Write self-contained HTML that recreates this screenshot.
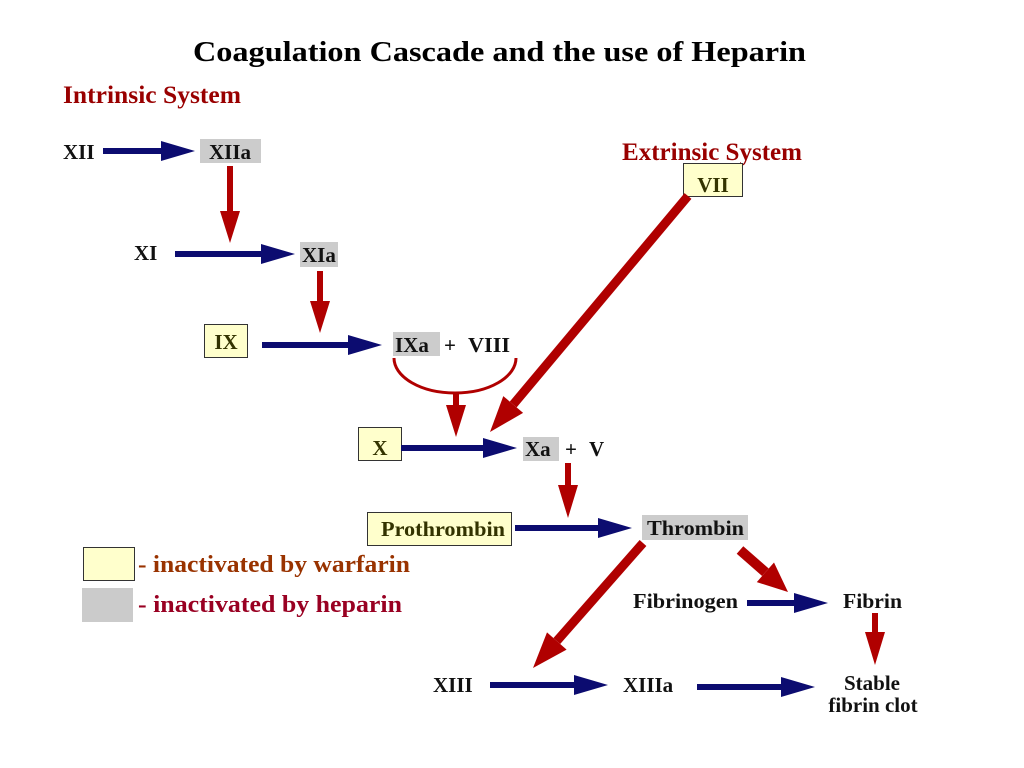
<!DOCTYPE html>
<html>
<head>
<meta charset="utf-8">
<style>
  html, body { margin:0; padding:0; background:#ffffff; }
  body { width:1024px; height:768px; overflow:hidden; }
  svg { display:block; }
  text { font-family: "Liberation Serif", "Times New Roman", serif; font-weight: bold; }
</style>
</head>
<body>
<svg width="1024" height="768" viewBox="0 0 1024 768" xmlns="http://www.w3.org/2000/svg">
  <rect x="0" y="0" width="1024" height="768" fill="#ffffff"/>

  <!-- Title -->
  <text x="193" y="61" font-size="29" fill="#000000" textLength="613" lengthAdjust="spacingAndGlyphs">Coagulation Cascade and the use of Heparin</text>
  <text x="63" y="103" font-size="25" fill="#990000" textLength="178" lengthAdjust="spacingAndGlyphs">Intrinsic System</text>
  <text x="622" y="160" font-size="25" fill="#990000" textLength="180" lengthAdjust="spacingAndGlyphs">Extrinsic System</text>

  <!-- Gray boxes (heparin) -->
  <rect x="200" y="139" width="61" height="24" fill="#cccccc"/>
  <rect x="300" y="242" width="38" height="25" fill="#cccccc"/>
  <rect x="393" y="332" width="47" height="24" fill="#cccccc"/>
  <rect x="523" y="437" width="36" height="24" fill="#cccccc"/>
  <rect x="642" y="515" width="106" height="25" fill="#cccccc"/>

  <!-- Yellow boxes (warfarin) -->
  <rect x="683.5" y="163.5" width="59" height="33" fill="#ffffcc" stroke="#333333" stroke-width="1"/>
  <rect x="204.5" y="324.5" width="43" height="33" fill="#ffffcc" stroke="#333333" stroke-width="1"/>
  <rect x="358.5" y="427.5" width="43" height="33" fill="#ffffcc" stroke="#333333" stroke-width="1"/>
  <rect x="367.5" y="512.5" width="144" height="33" fill="#ffffcc" stroke="#333333" stroke-width="1"/>

  <!-- Red diagonal arrows -->
  <line x1="688" y1="196" x2="513.2" y2="404.5" stroke="#b00000" stroke-width="9"/>
  <polygon points="523.1,412.9 490,432 503.3,396.1" fill="#b00000"/>

  <line x1="643" y1="543" x2="556.8" y2="641" stroke="#b00000" stroke-width="9"/>
  <polygon points="566.6,649.6 533,668 547.0,632.4" fill="#b00000"/>

  <line x1="740" y1="550" x2="765.4" y2="572.3" stroke="#b00000" stroke-width="10"/>
  <polygon points="756.8,582.1 788,592 774.0,562.5" fill="#b00000"/>

  <!-- Red curve under IXa + VIII -->
  <path d="M394,358 A61,35 0 0 0 516,358" fill="none" stroke="#b00000" stroke-width="3"/>

  <!-- Red vertical arrows -->
  <polygon points="227,166 233,166 233,211 240,211 230,243 220,211 227,211" fill="#b00000"/>
  <polygon points="317,271 323,271 323,301 330,301 320,333 310,301 317,301" fill="#b00000"/>
  <polygon points="453,392 459,392 459,405 466,405 456,437 446,405 453,405" fill="#b00000"/>
  <polygon points="565,463 571,463 571,485 578,485 568,518 558,485 565,485" fill="#b00000"/>
  <polygon points="872,613 878,613 878,632 885,632 875,665 865,632 872,632" fill="#b00000"/>

  <!-- Blue arrows -->
  <g fill="#0c0c70">
    <polygon points="103,148 161,148 161,141 195,151 161,161 161,154 103,154"/>
    <polygon points="175,251 261,251 261,244 295,254 261,264 261,257 175,257"/>
    <polygon points="262,342 348,342 348,335 382,345 348,355 348,348 262,348"/>
    <polygon points="401,445 483,445 483,438 517,448 483,458 483,451 401,451"/>
    <polygon points="515,525 598,525 598,518 632,528 598,538 598,531 515,531"/>
    <polygon points="747,600 794,600 794,593 828,603 794,613 794,606 747,606"/>
    <polygon points="490,682 574,682 574,675 608,685 574,695 574,688 490,688"/>
    <polygon points="697,684 781,684 781,677 815,687 781,697 781,690 697,690"/>
  </g>

  <!-- Labels -->
  <g font-size="21" fill="#111111">
    <text x="63" y="159">XII</text>
    <text x="209" y="159">XIIa</text>
    <text x="134" y="260">XI</text>
    <text x="302" y="262">XIa</text>
    <text x="395" y="352">IXa</text>
    <text x="444" y="352">+</text>
    <text x="468" y="352" textLength="42" lengthAdjust="spacingAndGlyphs">VIII</text>
    <text x="525" y="456">Xa</text>
    <text x="565" y="456">+</text>
    <text x="589" y="456">V</text>
    <text x="647" y="535" textLength="97" lengthAdjust="spacingAndGlyphs">Thrombin</text>
    <text x="633" y="608" textLength="105" lengthAdjust="spacingAndGlyphs">Fibrinogen</text>
    <text x="843" y="608" textLength="59" lengthAdjust="spacingAndGlyphs">Fibrin</text>
    <text x="433" y="692">XIII</text>
    <text x="623" y="692">XIIIa</text>
    <text x="872" y="690" text-anchor="middle">Stable</text>
    <text x="873" y="712" text-anchor="middle">fibrin clot</text>
  </g>
  <g font-size="21" fill="#333300">
    <text x="713" y="192" text-anchor="middle">VII</text>
    <text x="226" y="349" text-anchor="middle">IX</text>
    <text x="380" y="455" text-anchor="middle">X</text>
    <text x="381" y="536" textLength="124" lengthAdjust="spacingAndGlyphs">Prothrombin</text>
  </g>

  <!-- Legend -->
  <rect x="83.5" y="547.5" width="51" height="33" fill="#ffffcc" stroke="#333333" stroke-width="1"/>
  <text x="138" y="572" font-size="24" fill="#993300" textLength="272" lengthAdjust="spacingAndGlyphs">- inactivated by warfarin</text>
  <rect x="82" y="588" width="51" height="34" fill="#cbcbcb"/>
  <text x="138" y="612" font-size="24" fill="#990022" textLength="264" lengthAdjust="spacingAndGlyphs">- inactivated by heparin</text>
</svg>
</body>
</html>
